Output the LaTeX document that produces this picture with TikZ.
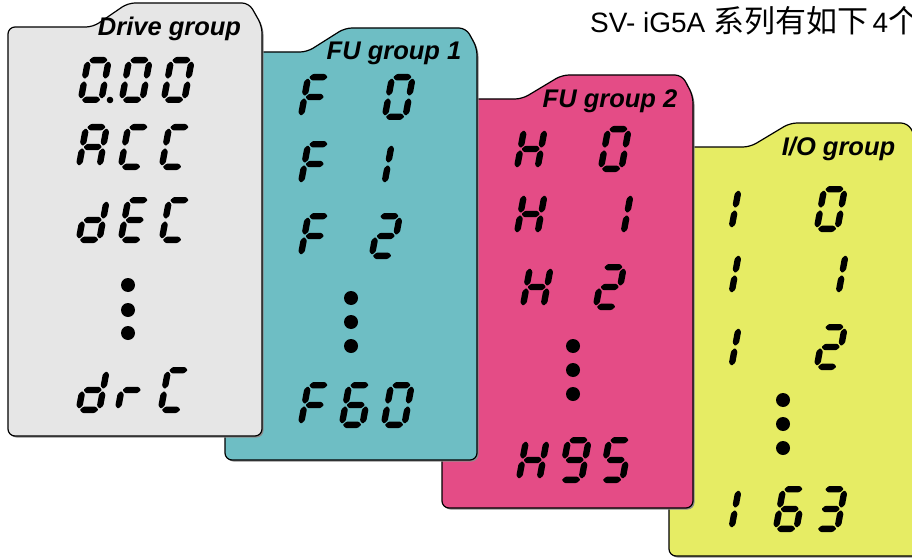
\documentclass[tikz,border=0pt]{standalone}
\usepackage{fontspec}
\setmainfont{Liberation Sans}
\newfontfamily\cjkfont{Noto Sans CJK SC}
\definecolor{graycard}{HTML}{E6E6E6}
\definecolor{tealcard}{HTML}{6EBEC4}
\definecolor{pinkcard}{HTML}{E44C86}
\definecolor{yellowcard}{HTML}{E6EC64}
\tikzset{
  card/.style={draw=black, line width=1.2pt, rounded corners=7pt},
  cardshadow/.style={fill=black!45, draw=none, rounded corners=7pt},
  grouplabel/.style={font=\fontsize{25.5}{30}\selectfont\bfseries\itshape, anchor=base, inner sep=0pt},
  segfill/.style={fill=black, rounded corners=0.9pt},
}
% seven segments, local coordinates: baseline y=0, top y=-46 (y axis of picture points down)
\newcommand\sgA{\fill[segfill] (4.2,-42.8) -- (7.4,-46) -- (19.6,-46) -- (22.8,-42.8) -- (19.6,-39.6) -- (7.4,-39.6) -- cycle;}
\newcommand\sgD{\fill[segfill] (4.2,-3.2) -- (7.4,-6.4) -- (19.6,-6.4) -- (22.8,-3.2) -- (19.6,0) -- (7.4,0) -- cycle;}
\newcommand\sgG{\fill[segfill] (4.2,-23) -- (7.4,-26.2) -- (19.6,-26.2) -- (22.8,-23) -- (19.6,-19.8) -- (7.4,-19.8) -- cycle;}
\newcommand\sgB{\fill[segfill] (23.8,-24) -- (27,-27.2) -- (27,-38.6) -- (23.8,-41.8) -- (20.6,-38.6) -- (20.6,-27.2) -- cycle;}
\newcommand\sgC{\fill[segfill] (23.8,-4.2) -- (27,-7.4) -- (27,-18.8) -- (23.8,-22) -- (20.6,-18.8) -- (20.6,-7.4) -- cycle;}
\newcommand\sgE{\fill[segfill] (3.2,-4.2) -- (6.4,-7.4) -- (6.4,-18.8) -- (3.2,-22) -- (0,-18.8) -- (0,-7.4) -- cycle;}
\newcommand\sgF{\fill[segfill] (3.2,-24) -- (6.4,-27.2) -- (6.4,-38.6) -- (3.2,-41.8) -- (0,-38.6) -- (0,-27.2) -- cycle;}
\newcommand\gZero{\sgA\sgB\sgC\sgD\sgE\sgF}
\newcommand\gOne{\sgB\sgC}
\newcommand\gTwo{\sgA\sgB\sgG\sgE\sgD}
\newcommand\gThree{\sgA\sgB\sgG\sgC\sgD}
\newcommand\gFive{\sgA\sgF\sgG\sgC\sgD}
\newcommand\gSix{\sgA\sgF\sgG\sgE\sgC\sgD}
\newcommand\gNine{\sgA\sgB\sgF\sgG\sgC\sgD}
\newcommand\gA{\sgA\sgB\sgC\sgE\sgF\sgG}
\newcommand\gC{\sgA\sgD\sgE\sgF}
\newcommand\gd{\sgB\sgC\sgD\sgE\sgG}
\newcommand\gE{\sgA\sgD\sgE\sgF\sgG}
\newcommand\gF{\sgA\sgE\sgF\sgG}
\newcommand\gH{\sgB\sgC\sgE\sgF\sgG}
\newcommand\gr{\sgE\sgG}
\newcommand\glyph[3]{\begin{scope}[shift={(#1,#2)},xslant=0.185]#3\end{scope}}
\begin{document}
\begin{tikzpicture}[x=1pt,y=-1pt]
\useasboundingbox (0,0) rectangle (912,559);

% ---- I/O group card (back) ----
\begin{scope}[shift={(1.5,1.5)}]
\fill[cardshadow] (669,300) -- (669,147) -- (750,147) -- (790,123) -- (908,123) -- (919,144) -- (919,556) -- (669,556) -- cycle;
\end{scope}
\draw[card, fill=yellowcard] (669,300) -- (669,147) -- (750,147) -- (790,123) -- (908,123) -- (919,144) -- (919,556) -- (669,556) -- cycle;
\node[grouplabel] (lblIO) at (838.5,155) {I/O group};
\glyph{707}{232}{\gOne}\glyph{813}{232}{\gZero}
\glyph{707}{297}{\gOne}\glyph{814}{297}{\gOne}
\glyph{707}{370}{\gOne}\glyph{813}{370}{\gTwo}
\fill (783,400) circle (7) (783,424) circle (7) (783,448) circle (7);
\glyph{707}{532}{\gOne}\glyph{772}{532}{\gSix}\glyph{813}{532}{\gThree}

% ---- FU group 2 card ----
\begin{scope}[shift={(1.5,1.5)}]
\fill[cardshadow] (442,300) -- (442,99) -- (522,99) -- (562,75) -- (682,75) -- (693,96) -- (693,508) -- (442,508) -- cycle;
\end{scope}
\draw[card, fill=pinkcard] (442,300) -- (442,99) -- (522,99) -- (562,75) -- (682,75) -- (693,96) -- (693,508) -- (442,508) -- cycle;
\node[grouplabel] (lblFU2) at (610,107) {FU group 2};
\glyph{513}{172}{\gH}\glyph{597}{172}{\gZero}
\glyph{513}{237}{\gH}\glyph{599}{237}{\gOne}
\glyph{519}{310}{\gH}\glyph{592}{310}{\gTwo}
\fill (573,346) circle (7) (573,370) circle (7) (573,394) circle (7);
\glyph{515}{483}{\gH}\glyph{557}{483}{\gNine}\glyph{598}{483}{\gFive}

% ---- FU group 1 card ----
\begin{scope}[shift={(1.5,1.5)}]
\fill[cardshadow] (225,300) -- (225,52) -- (307,52) -- (345,28) -- (466,28) -- (477,48) -- (477,460) -- (225,460) -- cycle;
\end{scope}
\draw[card, fill=tealcard] (225,300) -- (225,52) -- (307,52) -- (345,28) -- (466,28) -- (477,48) -- (477,460) -- (225,460) -- cycle;
\node[grouplabel] (lblFU1) at (394,60) {FU group 1};
\glyph{297}{120}{\gF}\glyph{381}{120}{\gZero}
\glyph{297}{187}{\gF}\glyph{360}{187}{\gOne}
\glyph{297}{259}{\gF}\glyph{368}{259}{\gTwo}
\fill (351,298) circle (7) (351,322) circle (7) (351,346) circle (7);
\glyph{297}{428}{\gF}\glyph{338}{428}{\gSix}\glyph{380}{428}{\gZero}

% ---- Drive group card (front) ----
\begin{scope}[shift={(1.5,1.5)}]
\fill[cardshadow] (8,300) -- (8,27) -- (93,27) -- (128,3) -- (249,3) -- (262,26) -- (262,436) -- (8,436) -- cycle;
\end{scope}
\draw[card, fill=graycard] (8,300) -- (8,27) -- (93,27) -- (128,3) -- (249,3) -- (262,26) -- (262,436) -- (8,436) -- cycle;
\node[grouplabel] (lblDrive) at (169.5,36) {Drive group};
\glyph{77}{103}{\gZero}\fill (110,100) circle (3.3);\glyph{118}{103}{\gZero}\glyph{160}{103}{\gZero}
\glyph{75}{170}{\gA}\glyph{117}{170}{\gC}\glyph{158}{170}{\gC}
\glyph{75}{243}{\gd}\glyph{117}{243}{\gE}\glyph{158}{243}{\gC}
\fill (128,285) circle (7) (128,310) circle (7) (128,333) circle (7);
\glyph{75}{413}{\gd}\glyph{114}{413}{\gr}\glyph{157}{413}{\gC}

% ---- title (cut at the right edge, as in the reference) ----
\node[anchor=base west, inner sep=0pt, font=\fontsize{28}{32}\selectfont] (title) at (590,33)
  {SV- iG5A {\cjkfont\fontsize{31}{34}\selectfont 系列有如下}\hspace{4.5pt}4{\cjkfont\fontsize{31}{34}\selectfont 个}};
\end{tikzpicture}
\end{document}
